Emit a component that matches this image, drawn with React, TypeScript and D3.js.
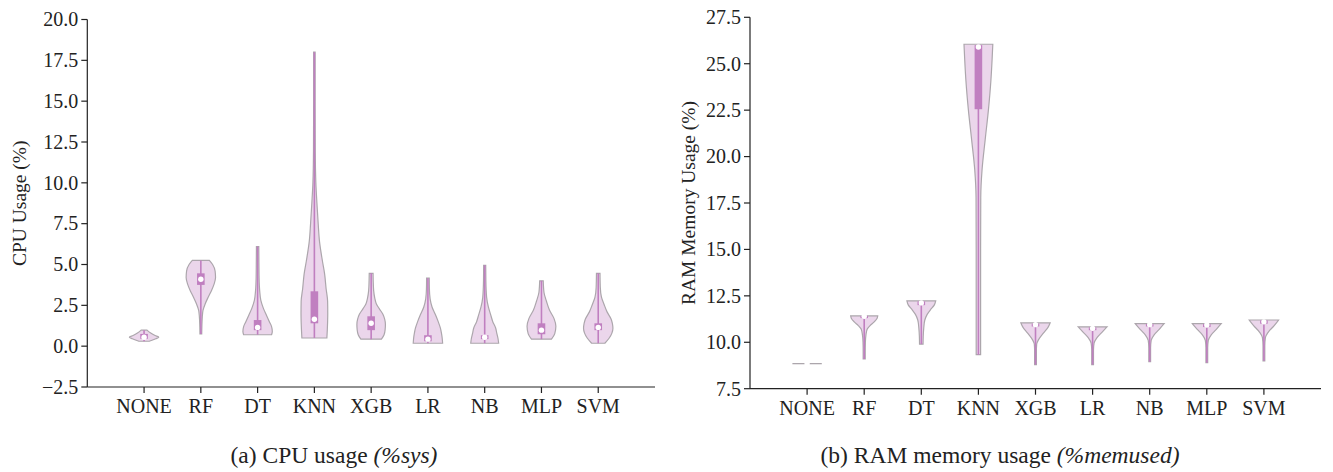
import React from "react";
import * as d3 from "d3";

const categories = ["NONE", "RF", "DT", "KNN", "XGB", "LR", "NB", "MLP", "SVM"];

// CPU violin profiles: [value, relative half-width]
const cpuProfiles: [number, number][][] = [
  [[0.3, 0.35], [0.45, 0.8], [0.55, 1.0], [0.65, 0.75], [0.8, 0.45], [0.98, 0.2]],
  [[0.75, 0.06], [1.2, 0.07], [1.8, 0.1], [2.2, 0.15], [2.6, 0.3], [3.0, 0.5], [3.4, 0.72], [3.8, 0.9], [4.2, 1.0], [4.6, 0.97], [5.0, 0.8], [5.25, 0.58]],
  [[0.7, 0.95], [0.9, 1.0], [1.2, 0.95], [1.5, 0.8], [1.9, 0.6], [2.3, 0.4], [2.8, 0.22], [3.4, 0.14], [4.2, 0.1], [5.0, 0.09], [6.1, 0.08]],
  [[0.5, 0.85], [1.0, 0.88], [1.5, 0.9], [2.0, 0.91], [2.75, 0.9], [3.5, 0.8], [4.4, 0.7], [5.2, 0.55], [6.4, 0.35], [7.5, 0.26], [8.8, 0.17], [10, 0.1], [12, 0.06], [15, 0.05], [18, 0.05]],
  [[0.43, 0.7], [0.7, 0.88], [1.0, 0.95], [1.33, 0.97], [1.65, 0.92], [1.95, 0.8], [2.3, 0.55], [2.6, 0.35], [2.93, 0.25], [3.4, 0.17], [4.0, 0.14], [4.46, 0.13]],
  [[0.18, 1.0], [0.5, 0.97], [0.8, 0.92], [1.1, 0.85], [1.5, 0.7], [1.95, 0.5], [2.4, 0.28], [2.9, 0.15], [3.5, 0.1], [4.16, 0.09]],
  [[0.18, 0.95], [0.5, 0.9], [0.8, 0.82], [1.1, 0.75], [1.5, 0.55], [1.95, 0.4], [2.4, 0.25], [3.0, 0.13], [4.0, 0.08], [4.95, 0.07]],
  [[0.43, 0.68], [0.75, 0.9], [1.22, 0.98], [1.7, 0.85], [2.2, 0.55], [2.75, 0.34], [3.3, 0.17], [4.0, 0.12]],
  [[0.18, 0.45], [0.5, 0.75], [0.8, 0.93], [1.1, 1.0], [1.4, 0.96], [1.65, 0.88], [2.1, 0.6], [2.55, 0.4], [3.0, 0.22], [3.6, 0.14], [4.46, 0.12]],
];
// CPU inner box: [whiskerLow, q1, median, q3, whiskerHigh]
const cpuBoxes: number[][] = [
  [0.3, 0.45, 0.55, 0.75, 0.98],
  [0.75, 3.75, 4.1, 4.46, 5.25],
  [0.7, 0.98, 1.15, 1.6, 6.1],
  [0.5, 1.4, 1.65, 3.36, 18],
  [0.43, 0.98, 1.4, 1.83, 4.46],
  [0.18, 0.3, 0.43, 0.67, 4.16],
  [0.18, 0.43, 0.55, 0.67, 4.95],
  [0.43, 0.73, 0.98, 1.4, 4.0],
  [0.18, 0.98, 1.15, 1.4, 4.46],
];

const ramProfiles: [number, number][][] = [
  [[8.85, 1.0], [8.85, 1.0]],
  [[9.1, 0.07], [9.5, 0.07], [10.0, 0.08], [10.4, 0.12], [10.7, 0.2], [10.9, 0.4], [11.1, 0.68], [11.3, 0.88], [11.42, 0.92]],
  [[9.9, 0.12], [10.3, 0.13], [10.8, 0.17], [11.2, 0.24], [11.5, 0.4], [11.75, 0.62], [12.0, 0.88], [12.23, 0.98]],
  [[9.33, 0.15], [12, 0.15], [15, 0.15], [17.8, 0.16], [19.3, 0.25], [20.9, 0.46], [22.5, 0.68], [24.1, 0.85], [25.2, 0.93], [26.05, 0.98]],
  [[8.8, 0.06], [9.5, 0.06], [9.9, 0.08], [10.13, 0.2], [10.5, 0.55], [10.8, 0.85], [11.05, 1.0]],
  [[8.8, 0.06], [9.6, 0.06], [9.95, 0.1], [10.25, 0.3], [10.55, 0.65], [10.83, 0.98]],
  [[8.95, 0.06], [9.7, 0.06], [10.1, 0.1], [10.4, 0.3], [10.7, 0.65], [11.0, 0.98]],
  [[8.9, 0.06], [9.7, 0.06], [10.1, 0.1], [10.4, 0.3], [10.7, 0.65], [11.0, 0.98]],
  [[9.0, 0.06], [9.8, 0.06], [10.25, 0.1], [10.55, 0.3], [10.9, 0.7], [11.2, 1.0]],
];
const ramBoxes: number[][] = [
  [8.85, 8.85, 8.85, 8.85, 8.85],
  [9.1, 11.3, 11.4, 11.42, 11.42],
  [9.9, 12.0, 12.12, 12.2, 12.2],
  [9.33, 22.55, 25.9, 26.0, 26.05],
  [8.8, 10.85, 10.95, 11.0, 11.05],
  [8.8, 10.65, 10.75, 10.8, 10.83],
  [8.95, 10.85, 10.95, 10.98, 11.0],
  [8.9, 10.82, 10.93, 10.98, 11.0],
  [9.0, 11.0, 11.1, 11.18, 11.2],
];

const cpuTicks = [-2.5, 0, 2.5, 5, 7.5, 10, 12.5, 15, 17.5, 20];
const ramTicks = [7.5, 10, 12.5, 15, 17.5, 20, 22.5, 25, 27.5];

const FONT = "'Liberation Serif', 'DejaVu Serif', serif";
const FILL = "#ebd6eb";
const EDGE = "#aca6ac";
const INNER = "#c07fc0";
const TEXT = "#222";

type PanelProps = {
  x0: number; x1: number; yTop: number; yBot: number;
  domain: [number, number]; ticks: number[];
  profiles: [number, number][][]; boxes: number[][];
  ylabel: string; ylabelX: number;
  caption: React.ReactNode; captionX: number;
};

function Panel(p: PanelProps) {
  const x = d3.scaleLinear().domain([-1, 9]).range([p.x0, p.x1]);
  const y = d3.scaleLinear().domain(p.domain).range([p.yBot, p.yTop]);
  const w = d3.scaleLinear().domain([0, 1]).range([0, 14.7]);
  const fmt = (v: number) => (v < 0 ? "\u2212" : "") + d3.format(".1f")(Math.abs(v));
  return (
    <g>
      {categories.map((c, i) => {
        const cx = x(i);
        const prof = p.profiles[i];
        const flat = prof[0][0] === prof[prof.length - 1][0];
        const area = d3
          .area<[number, number]>()
          .y((d) => y(d[0]))
          .x0((d) => cx - w(d[1]))
          .x1((d) => cx + w(d[1]))
          .curve(d3.curveMonotoneY);
        const b = p.boxes[i];
        return (
          <g key={c}>
            {flat ? (
              <line x1={cx - w(prof[0][1])} x2={cx + w(prof[0][1])} y1={y(prof[0][0])} y2={y(prof[0][0])} stroke={EDGE} strokeWidth={1.3} />
            ) : (
              <path d={area(prof) || ""} fill={FILL} stroke={EDGE} strokeWidth={1.2} />
            )}
            {!flat && (
              <>
                <line x1={cx} x2={cx} y1={y(b[0])} y2={y(b[4])} stroke={INNER} strokeWidth={1.6} />
                <rect x={cx - 3.8} width={7.6} y={y(b[3])} height={Math.max(0.5, y(b[1]) - y(b[3]))} fill={INNER} />
              </>
            )}
            <circle cx={cx} cy={y(b[2])} r={2.7} fill="white" />
          </g>
        );
      })}
      {/* axes */}
      <line x1={p.x0} x2={p.x0} y1={p.yTop} y2={p.yBot} stroke={TEXT} strokeWidth={1.2} />
      <line x1={p.x0} x2={p.x1} y1={p.yBot} y2={p.yBot} stroke={TEXT} strokeWidth={1.2} />
      {p.ticks.map((t) => (
        <g key={t}>
          <line x1={p.x0 - 6} x2={p.x0} y1={y(t)} y2={y(t)} stroke={TEXT} strokeWidth={1.2} />
          <text x={p.x0 - 9} y={y(t)} dy="0.34em" textAnchor="end" fontSize={20} fontFamily={FONT} fill={TEXT}>
            {fmt(t)}
          </text>
        </g>
      ))}
      {categories.map((c, i) => (
        <g key={c}>
          <line x1={x(i)} x2={x(i)} y1={p.yBot} y2={p.yBot + 6} stroke={TEXT} strokeWidth={1.2} />
          <text x={x(i)} y={p.yBot + 26} textAnchor="middle" fontSize={20} fontFamily={FONT} fill={TEXT}>
            {c}
          </text>
        </g>
      ))}
      <text
        transform={`translate(${p.ylabelX},${(p.yTop + p.yBot) / 2}) rotate(-90)`}
        textAnchor="middle"
        fontSize={19.5}
        fontFamily={FONT}
        fill={TEXT}
      >
        {p.ylabel}
      </text>
      <text x={p.captionX} y={463} textAnchor="middle" fontSize={23.5} fontFamily={FONT} fill={TEXT}>
        {p.caption}
      </text>
    </g>
  );
}

export default function App() {
  return (
    <svg width={1333} height={472} style={{ position: "absolute", left: 0, top: 0, background: "white" }}>
      <rect width={1333} height={472} fill="white" />
      <Panel
        x0={87.3} x1={655} yTop={19.5} yBot={387}
        domain={[-2.5, 20]} ticks={cpuTicks}
        profiles={cpuProfiles} boxes={cpuBoxes}
        ylabel="CPU Usage (%)" ylabelX={26}
        caption={<>(a) CPU usage <tspan fontStyle="italic">(%sys)</tspan></>}
        captionX={334}
      />
      <Panel
        x0={750} x1={1321} yTop={17.3} yBot={388.7}
        domain={[7.5, 27.5]} ticks={ramTicks}
        profiles={ramProfiles} boxes={ramBoxes}
        ylabel="RAM Memory Usage (%)" ylabelX={695}
        caption={<>(b) RAM memory usage <tspan fontStyle="italic">(%memused)</tspan></>}
        captionX={1000}
      />
    </svg>
  );
}
